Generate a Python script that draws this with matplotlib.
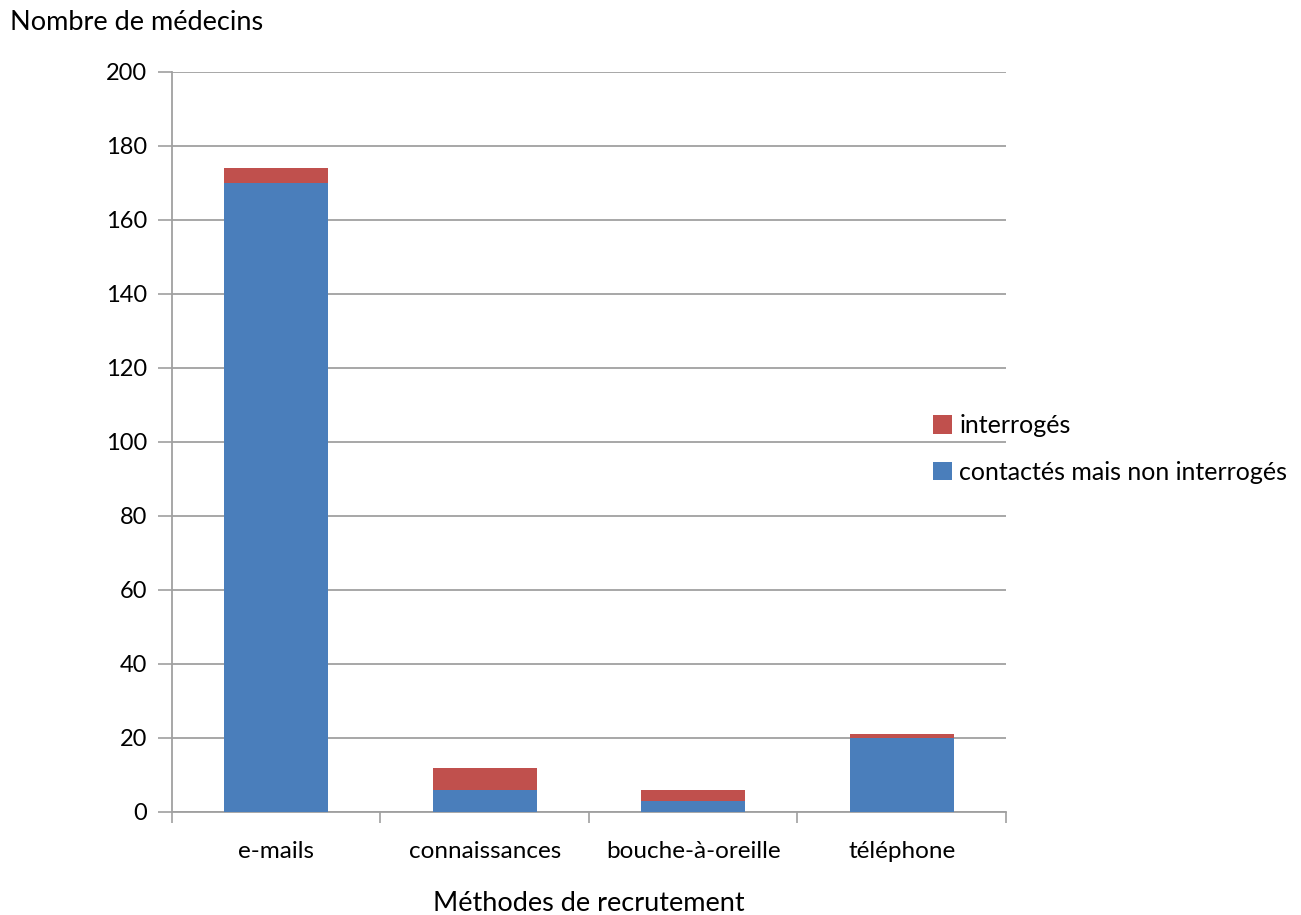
import matplotlib
matplotlib.use("Agg")
import matplotlib.pyplot as plt
import numpy as np

# Data
methodes = ["e-mails", "connaissances", "bouche-à-oreille", "téléphone"]
non_interroges = [170, 6, 3, 20]
interroges = [4, 6, 3, 1]
y_ticks = [0, 20, 40, 60, 80, 100, 120, 140, 160, 180, 200]

BLUE = "#4A7EBB"
RED = "#C0504D"
GRID = "#A0A0A0"
FS = 17

plt.rcParams['font.family'] = ['Lato', 'DejaVu Sans']

fig = plt.figure(figsize=(13.01, 9.15), dpi=100)
ax = fig.add_axes([172 / 1301, 1 - 812 / 915, (1006 - 172) / 1301, (812 - 72) / 915])

x = np.arange(len(methodes))
b1 = ax.bar(x, non_interroges, width=0.5, color=BLUE, label="contactés mais non interrogés", zorder=3)
b2 = ax.bar(x, interroges, width=0.5, bottom=non_interroges, color=RED, label="interrogés", zorder=3)

ax.set_xlim(-0.5, len(methodes) - 0.5)
ax.set_ylim(0, 200)
ax.set_yticks(y_ticks)
ax.tick_params(axis='y', labelsize=FS, length=10, width=1.2, color=GRID, pad=8)
ax.grid(axis='y', color=GRID, linewidth=1.3, zorder=0)

# category labels between boundary ticks
ax.set_xticks(np.arange(-0.5, len(methodes), 1.0))
ax.set_xticklabels([])
ax.set_xticks(x, minor=True)
ax.set_xticklabels(methodes, minor=True, fontsize=FS + 0.5)
ax.tick_params(axis='x', which='major', length=8, width=1.2, color=GRID)
ax.tick_params(axis='x', which='minor', length=0, pad=21)

for side in ["top", "right"]:
    ax.spines[side].set_visible(False)
for side in ["left", "bottom"]:
    ax.spines[side].set_color(GRID)
    ax.spines[side].set_linewidth(1.3)

fig.text(10 / 1301, 1 - 22 / 915, "Nombre de médecins", fontsize=19.5, va='center', ha='left')
fig.text(0.5 * (172 + 1006) / 1301, 1 - 911 / 915, "Méthodes de recrutement", fontsize=19.5,
         va='baseline', ha='center')

ax.legend(handles=[b2, b1], loc='center left', bbox_to_anchor=(933 / 1301, 1 - 449 / 915),
          bbox_transform=fig.transFigure, frameon=False,
          fontsize=18, handlelength=0.75, handleheight=0.75, handletextpad=0.3, labelspacing=0.95,
          borderaxespad=0, borderpad=0)

fig.savefig("out.png", dpi=100)
